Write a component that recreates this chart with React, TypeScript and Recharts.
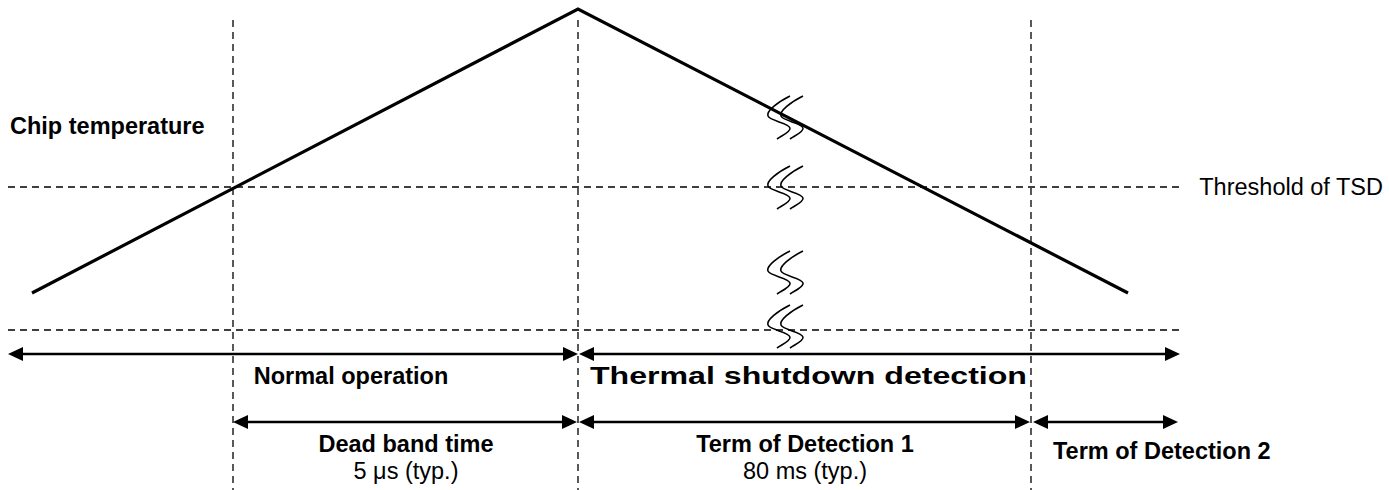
import React from 'react';
import { LineChart, Line, XAxis, YAxis, ReferenceLine, ReferenceDot } from 'recharts';

const W = 1389;
const H = 490;
const FONT = '"Liberation Sans", Arial, Helvetica, sans-serif';

// Chip temperature profile: horizontal position and level (level axis runs downward)
const tempPos = [32, 578, 1128];
const tempLevel = [293, 9, 293];

// Phase boundaries (vertical dashed lines)
const phaseBoundaries = [233, 578, 1031];
const boundaryTop = 20;
const boundaryBottom = 490;

// Horizontal dashed lines: threshold of TSD, base
const levelLines = [187, 330];
const levelLineStart = 8;
const levelLineEnd = 1180;

// Span arrows
const spanRow1Level = 354;
const spanRow1Start = [8, 579];
const spanRow1End = [578, 1180];
const spanRow2Level = 422;
const spanRow2Start = [233, 579, 1033];
const spanRow2End = [577, 1030, 1178];

// Break marks
const breakPos = 790;
const breakLevels = [117, 187, 272, 326];

// Text labels
const labelTexts = [
  'Chip temperature',
  'Threshold of TSD',
  'Normal operation',
  'Thermal shutdown detection',
  'Dead band time',
  '5 \u03bcs (typ.)',
  'Term of Detection 1',
  '80 ms (typ.)',
  'Term of Detection 2',
];
const labelPos = [10, 1383, 351, 590, 406, 406, 805, 805, 1053];
const labelLevel = [134, 195, 384, 384, 452, 479, 452, 479, 459];
const labelAnchor = ['start', 'end', 'middle', 'start', 'middle', 'middle', 'middle', 'middle', 'start'];
const labelBold = [true, false, true, true, true, false, true, false, true];
const labelSpread = [0, 0, 0, 437, 0, 0, 0, 0, 0];

const tempData = tempPos.map((p, i) => ({ pos: p, level: tempLevel[i] }));

const DASH = '7 5';

const arrowShape = (props: any) => {
  const { x1, y1, x2, y2 } = props;
  const L = 15;
  const hw = 7;
  return (
    <g>
      <line x1={x1 + L - 1} y1={y1} x2={x2 - L + 1} y2={y2} stroke="#000" strokeWidth={2.3} />
      <polygon points={`${x1},${y1} ${x1 + L},${y1 - hw} ${x1 + L},${y1 + hw}`} fill="#000" />
      <polygon points={`${x2},${y2} ${x2 - L},${y2 - hw} ${x2 - L},${y2 + hw}`} fill="#000" />
    </g>
  );
};

const breakShape = (props: any) => {
  const { cx, cy } = props;
  const stroke = (dx: number) => {
    const x = cx + dx;
    const y = cy;
    return `M ${x + 6} ${y - 21} C ${x - 6} ${y - 15} ${x - 18} ${y - 6} ${x - 16} ${y - 1} C ${x - 14} ${y + 4} ${x + 5} ${y + 6} ${x + 6} ${y + 11} C ${x + 7} ${y + 15} ${x - 3} ${y + 19} ${x - 7} ${y + 22}`;
  };
  return (
    <g>
      <path d={stroke(-6)} fill="none" stroke="#000" strokeWidth={1.6} />
      <path d={stroke(7)} fill="none" stroke="#000" strokeWidth={1.6} />
    </g>
  );
};

const makeTextShape = (i: number) => (props: any) => (
  <text
    x={props.cx}
    y={props.cy}
    textAnchor={labelAnchor[i] as any}
    fontFamily={FONT}
    fontSize={23.5}
    fontWeight={labelBold[i] ? 'bold' : 'normal'}
    fill="#000"
    {...(labelSpread[i] ? { textLength: labelSpread[i], lengthAdjust: 'spacingAndGlyphs' } : {})}
  >
    {labelTexts[i]}
  </text>
);

export default function App() {
  return (
    <div style={{ position: 'absolute', left: 0, top: 0, width: W, height: H, background: '#fff' }}>
      <LineChart width={W} height={H} margin={{ top: 0, right: 0, bottom: 0, left: 0 }}>
        <XAxis type="number" dataKey="pos" domain={[0, W]} hide allowDataOverflow />
        <YAxis type="number" domain={[0, H]} reversed hide allowDataOverflow />
        {levelLines.map((lv) => (
          <ReferenceLine
            key={`h${lv}`}
            segment={[{ x: levelLineStart, y: lv }, { x: levelLineEnd, y: lv }]}
            stroke="#000"
            strokeWidth={1.3}
            strokeDasharray={DASH}
            ifOverflow="visible"
          />
        ))}
        {phaseBoundaries.map((p) => (
          <ReferenceLine
            key={`v${p}`}
            segment={[{ x: p, y: boundaryTop }, { x: p, y: boundaryBottom }]}
            stroke="#000"
            strokeWidth={1.3}
            strokeDasharray={DASH}
            ifOverflow="visible"
          />
        ))}
        <Line
          data={tempData}
          dataKey="level"
          stroke="#000"
          strokeWidth={3.2}
          dot={false}
          activeDot={false}
          isAnimationActive={false}
          type="linear"
          strokeLinecap="butt"
        />
        {spanRow1Start.map((s, i) => (
          <ReferenceLine
            key={`a1${i}`}
            segment={[{ x: s, y: spanRow1Level }, { x: spanRow1End[i], y: spanRow1Level }]}
            shape={arrowShape}
            ifOverflow="visible"
          />
        ))}
        {spanRow2Start.map((s, i) => (
          <ReferenceLine
            key={`a2${i}`}
            segment={[{ x: s, y: spanRow2Level }, { x: spanRow2End[i], y: spanRow2Level }]}
            shape={arrowShape}
            ifOverflow="visible"
          />
        ))}
        {breakLevels.map((lv) => (
          <ReferenceDot key={`b${lv}`} x={breakPos} y={lv} r={0} shape={breakShape} ifOverflow="visible" />
        ))}
        {labelTexts.map((t, i) => (
          <ReferenceDot
            key={`t${i}`}
            x={labelPos[i]}
            y={labelLevel[i]}
            r={0}
            shape={makeTextShape(i)}
            ifOverflow="visible"
          />
        ))}
      </LineChart>
    </div>
  );
}
